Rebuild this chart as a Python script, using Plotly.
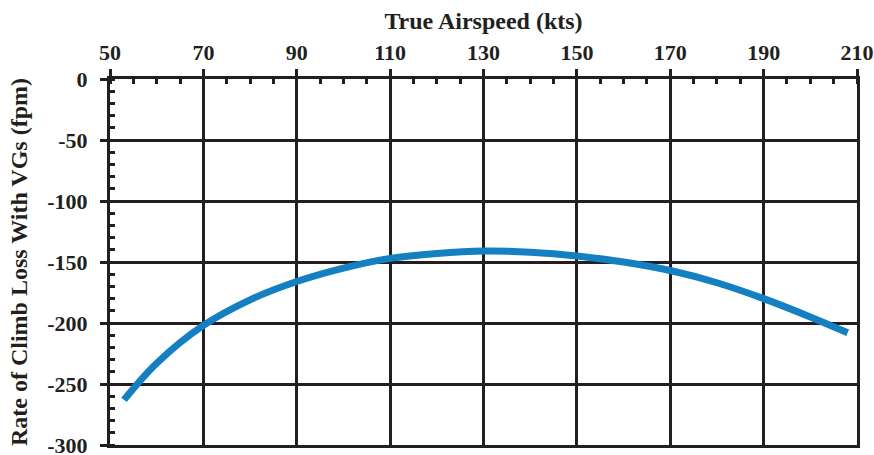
import plotly.graph_objects as go

airspeed = [53, 60, 70, 80, 90, 100, 110, 120, 130, 140, 150, 160, 170, 180, 190, 200, 208]
climb_loss = [-263, -233, -202, -181, -166, -155, -147, -143, -141, -142, -145, -150, -157, -167, -180, -195, -208]

x_ticks = [50, 70, 90, 110, 130, 150, 170, 190, 210]
y_ticks = [0, -50, -100, -150, -200, -250, -300]
y_tick_labels = ["0", "-50", "-100", "-150", "-200", "-250", "-300"]

font_family = "Liberation Serif, Times New Roman, serif"
ink = "#231f20"

fig = go.Figure()
fig.add_trace(go.Scatter(
    x=airspeed, y=climb_loss, mode="lines",
    line=dict(color="#1480c2", width=7, shape="spline", smoothing=1.0),
    showlegend=False, hoverinfo="skip",
))

axis_common = dict(
    showline=True, linecolor=ink, linewidth=3, mirror=True,
    showgrid=True, gridcolor=ink, gridwidth=2.5,
    ticks="outside", ticklen=7, tickwidth=2.5, tickcolor=ink,
    tickfont=dict(family=font_family, size=22, color=ink, weight="bold"),
    zeroline=False, automargin=False, ticklabeloverflow="allow",
)

fig.update_layout(
    width=874, height=455,
    paper_bgcolor="white", plot_bgcolor="white",
    margin=dict(l=110, r=17, t=79, b=10),
    xaxis=dict(
        **axis_common,
        side="top", range=[50, 210], tickvals=x_ticks,
        minor=dict(ticks="inside", ticklen=5, tickwidth=2.5, tickcolor=ink, dtick=5, tick0=50, showgrid=False),
        title=dict(text="True Airspeed (kts)", font=dict(family=font_family, size=24, color=ink, weight="bold"), standoff=4),
    ),
    yaxis=dict(
        **axis_common,
        range=[-300, 0], tickvals=y_ticks, ticktext=y_tick_labels, ticklabelstandoff=8,
        minor=dict(ticks="inside", ticklen=5, tickwidth=2.5, tickcolor=ink, dtick=10, tick0=0, showgrid=False),
        title=dict(text="Rate of Climb Loss With VGs (fpm)", font=dict(family=font_family, size=24, color=ink, weight="bold"), standoff=13),
    ),
)

fig.write_html(
    "out.html",
    config={"displayModeBar": False},
    post_script="document.body.style.margin='0';document.body.style.overflow='hidden';",
)
